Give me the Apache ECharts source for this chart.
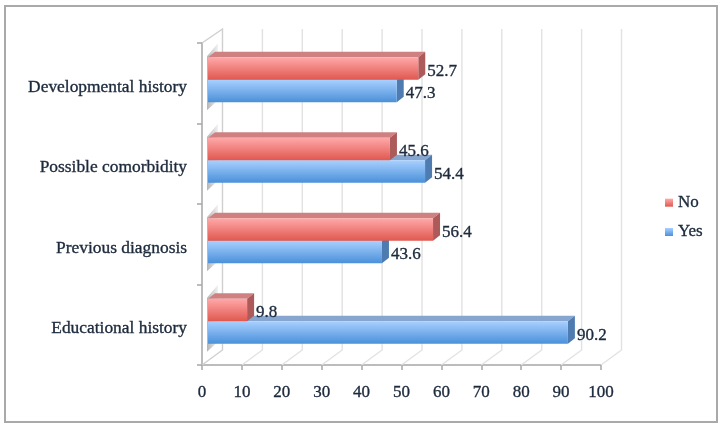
<!DOCTYPE html>
<html><head><meta charset="utf-8">
<style>html,body{margin:0;padding:0;background:#fff}#c{width:724px;height:430px}</style>
<script src="https://cdn.jsdelivr.net/npm/echarts@6/dist/echarts.min.js"></script>
</head><body><div id="c"></div>
<script>
const categories = ['Educational history','Previous diagnosis','Possible comorbidity','Developmental history'];
const noValues = [9.8, 56.4, 45.6, 52.7];
const yesValues = [90.2, 43.6, 54.4, 47.3];
const axisTicks = [0,10,20,30,40,50,60,70,80,90,100];

const FONT = '"Liberation Serif", serif';
const TXT = '#1c2a3c';
const STROKE = {textBorderColor:TXT, textBorderWidth:0.35};
const grad = (a,b) => new echarts.graphic.LinearGradient(0,0,0,1,[{offset:0,color:a},{offset:1,color:b}]);
const noFront = grad('#ffa9a9','#e0584f');
const yesFront = grad('#a9d0ff','#4a90d9');

function barRenderer(isNo, front, topCol, sideCol){
  return function(params, api){
    const v = api.value(0), c = api.value(1);
    const p = api.coord([v,c]), o = api.coord([0,c]);
    const h = 22.5, dx = 7, dy = 5.5;
    const x0 = o[0] + 6, x1 = p[0] + 6;
    const mid = p[1] - 3.5;
    const y0 = isNo ? mid - h : mid, y1 = y0 + h;
    return {type:'group', children:[
      {type:'polygon', shape:{points:[[x0,y0],[x0+dx,y0-dy],[x1+dx,y0-dy],[x1,y0]]}, style:{fill:topCol}},
      {type:'polygon', shape:{points:[[x1,y0],[x1+dx,y0-dy],[x1+dx,y1-dy],[x1,y1]]}, style:{fill:sideCol}},
      {type:'rect', shape:{x:x0,y:y0,width:x1-x0,height:h}, style:{fill:front}},
      {type:'text', z2:10, style:{x:x1+dx+2, y:(y0+y1)/2+3, text:String(v), fill:TXT, font:'17px '+FONT, verticalAlign:'middle', align:'left', stroke:TXT, lineWidth:0.35}}
    ]};
  };
}
function wallRenderer(params, api){
  const x = api.coord([api.value(0),0])[0];
  const cs = params.coordSys;
  const bot = cs.y + cs.height, top = cs.y;
  const pts = [[x,bot],[x+20.5,bot-15],[x+20.5,top-14]];
  if (api.value(0) === 0) pts.push([x,top]);
  return {type:'polyline', shape:{points:pts}, style:{fill:null, stroke:api.value(0)===0?'#cfcfcf':'#e2e2e2', lineWidth:1.4}};
}
function shadowRenderer(params, api){
  const y = api.coord([0,api.value(0)])[1];
  const x = params.coordSys.x;
  return {type:'polygon', shape:{points:[[x+5,y-27],[x+16,y-40],[x+16,y+17],[x+5,y+27]]},
    style:{fill:new echarts.graphic.LinearGradient(0,0,1,0,[{offset:0,color:'#b5b5b5'},{offset:1,color:'#f2f2f2'}])}};
}

const chart = echarts.init(document.getElementById('c'), null, {renderer:'canvas'});
chart.setOption({
  animation:false,
  backgroundColor:'#fff',
  graphic:[{type:'rect', z:-1, shape:{x:5,y:6,width:712,height:416}, style:{fill:'#fff',stroke:'#a9a9a9',lineWidth:2}}],
  grid:{left:202, top:43, width:399, height:322, containLabel:false},
  legend:{orient:'vertical', left:665, top:194, padding:0, itemWidth:8, itemHeight:8, itemGap:12,
    textStyle:{fontFamily:FONT,fontSize:17,color:TXT,...STROKE},
    data:[{name:'No',icon:'rect',itemStyle:{color:noFront}},{name:'Yes',icon:'rect',itemStyle:{color:yesFront}}]},
  xAxis:{type:'value', min:0, max:100, interval:10,
    axisLine:{show:true,lineStyle:{color:'#a6a6a6',width:1.5}},
    axisTick:{show:true,length:5,inside:false,lineStyle:{color:'#a6a6a6',width:1.5}},
    splitLine:{show:false},
    axisLabel:{fontFamily:FONT,fontSize:17,color:TXT,margin:19,...STROKE}},
  yAxis:{type:'category', data:categories, boundaryGap:true,
    axisLine:{show:true,lineStyle:{color:'#a6a6a6',width:1.5}},
    axisTick:{show:true,length:5,lineStyle:{color:'#a6a6a6',width:1.5}},
    axisLabel:{fontFamily:FONT,fontSize:17.4,color:TXT,margin:15,verticalAlign:'top',lineHeight:8,...STROKE}},
  series:[
    {type:'custom', name:'wall', silent:true, z:1, coordinateSystem:'cartesian2d', renderItem:wallRenderer, data:axisTicks.map(t=>[t,0]), encode:{x:0,y:1}},
    {type:'custom', name:'wallTop', silent:true, z:1, coordinateSystem:'cartesian2d', renderItem:shadowRenderer, data:categories.map((c,i)=>[i]), encode:{y:0}},
    {type:'custom', name:'Yes', z:3, coordinateSystem:'cartesian2d', itemStyle:{color:'#6aa6e6'}, renderItem:barRenderer(false,yesFront,'#86a6d0','#4f7cb0'), data:yesValues.map((v,i)=>[v,i]), encode:{x:0,y:1}},
    {type:'custom', name:'No', z:4, coordinateSystem:'cartesian2d', itemStyle:{color:'#f08080'}, renderItem:barRenderer(true,noFront,'#cf8080','#ad5a5a'), data:noValues.map((v,i)=>[v,i]), encode:{x:0,y:1}}
  ]
});
</script></body></html>
